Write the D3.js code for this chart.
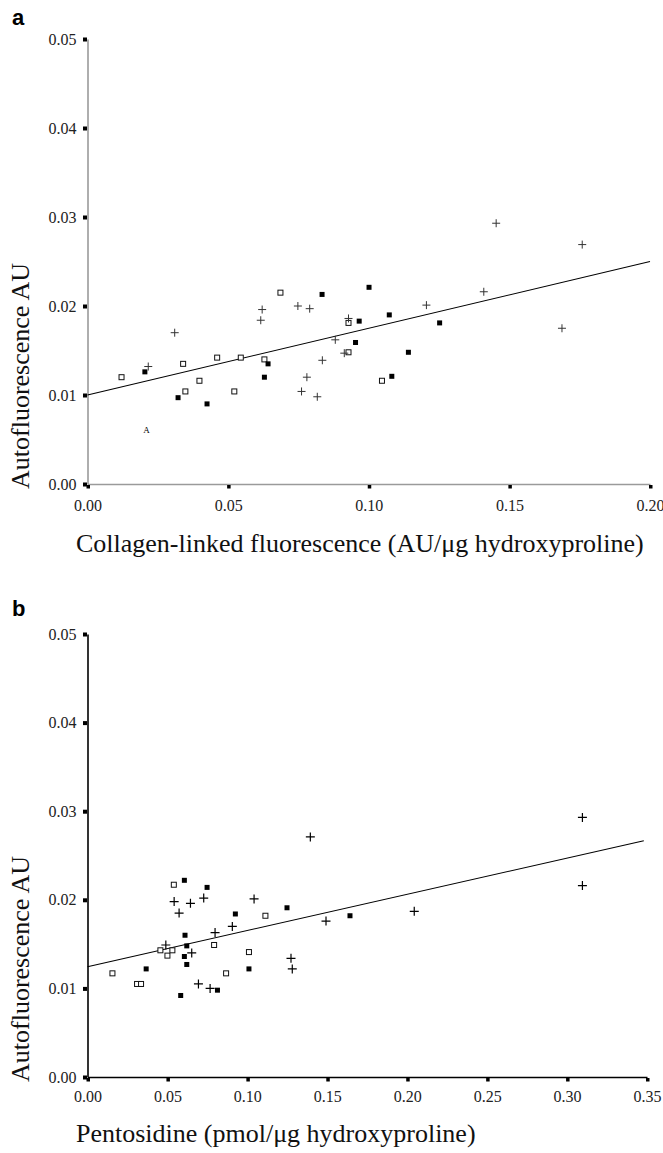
<!DOCTYPE html>
<html>
<head>
<meta charset="utf-8">
<script src="https://cdn.jsdelivr.net/npm/d3@7"></script>
<style>
  body { margin: 0; background: #fff; }
  .axis-title { font-family: "Liberation Serif", "Times New Roman", serif; fill: #111; }
  .panel-letter { font-family: "Liberation Sans", Arial, sans-serif; font-weight: bold; font-size: 22px; }
</style>
</head>
<body>
<div id="vis-container"></div>
<script>
// panel a: collagen-linked fluorescence vs autofluorescence, [x, y]
const aOpen = [
  [0.0121, 0.0120], [0.0340, 0.0135], [0.0348, 0.0104], [0.0398, 0.0116],
  [0.0461, 0.0142], [0.0522, 0.0104], [0.0545, 0.0142], [0.0629, 0.0140],
  [0.0686, 0.0215], [0.0928, 0.0181], [0.0928, 0.0148], [0.1047, 0.0116]
];
const aFilled = [
  [0.0204, 0.0126], [0.0322, 0.0097], [0.0425, 0.0090], [0.0629, 0.0120],
  [0.0642, 0.0135], [0.0834, 0.0213], [0.0966, 0.0183], [0.0953, 0.0159],
  [0.1001, 0.0221], [0.1073, 0.0190], [0.1252, 0.0181], [0.1141, 0.0148],
  [0.1082, 0.0121]
];
const aCross = [
  [0.0216, 0.0132], [0.0310, 0.0170], [0.0621, 0.0196], [0.0616, 0.0184],
  [0.0748, 0.0200], [0.0790, 0.0197], [0.0928, 0.0186], [0.0881, 0.0162],
  [0.0913, 0.0147], [0.0835, 0.0139], [0.0780, 0.0120], [0.0761, 0.0104],
  [0.0817, 0.0098], [0.1453, 0.0293], [0.1759, 0.0269], [0.1409, 0.0216],
  [0.1205, 0.0201], [0.1687, 0.0175]
];
const aLetterPoints = [[0.0210, 0.0061]];
const aFit = [[0, 0.0100], [0.20, 0.0250]];
const aXTicks = [0, 0.05, 0.10, 0.15, 0.20];

// panel b: pentosidine vs autofluorescence
const bOpen = [
  [0.0156, 0.0117], [0.0310, 0.0105], [0.0335, 0.0105], [0.0456, 0.0143],
  [0.0500, 0.0137], [0.0531, 0.0143], [0.0540, 0.0217], [0.0792, 0.0149],
  [0.0867, 0.0117], [0.1010, 0.0141], [0.1113, 0.0182]
];
const bFilled = [
  [0.0367, 0.0122], [0.0583, 0.0092], [0.0606, 0.0222], [0.0610, 0.0160],
  [0.0621, 0.0148], [0.0606, 0.0136], [0.0621, 0.0127], [0.0748, 0.0214],
  [0.0813, 0.0098], [0.0925, 0.0184], [0.1010, 0.0122], [0.1248, 0.0191],
  [0.1642, 0.0182]
];
const bCross = [
  [0.0490, 0.0149], [0.0542, 0.0198], [0.0573, 0.0185], [0.0644, 0.0196],
  [0.0652, 0.0140], [0.0727, 0.0202], [0.0694, 0.0105], [0.0767, 0.0100],
  [0.0798, 0.0163], [0.0906, 0.0170], [0.1042, 0.0201], [0.1273, 0.0134],
  [0.1281, 0.0122], [0.1492, 0.0176], [0.1394, 0.0271], [0.3096, 0.0293],
  [0.3096, 0.0216], [0.2044, 0.0187]
];
const bFit = [[0, 0.01245], [0.348, 0.02667]];
const bXTicks = [0, 0.05, 0.10, 0.15, 0.20, 0.25, 0.30, 0.35];

const yTicks = [0, 0.01, 0.02, 0.03, 0.04, 0.05];

let width = 663;
let height = 1153;
let svg = d3.select("#vis-container").append("svg").attr("width", width).attr("height", height);

function styleTicks(axis) {
  axis.attr("font-family", "Liberation Serif, serif").attr("font-size", 16);
  axis.selectAll(".tick text")
    .attr("font-family", "Liberation Serif, serif")
    .attr("font-size", 16)
    .attr("fill", "#222");
}

function drawPanel(p) {
  let x = d3.scaleLinear().domain(p.xDomain).range([87.5, p.xRight]);
  let y = d3.scaleLinear().domain([0, 0.05]).range([p.yBottom, p.yTop]);
  let g = svg.append("g");

  // axes
  let yAxis = g.append("g")
    .attr("transform", "translate(" + x(0) + ",0)")
    .call(d3.axisLeft(y).tickValues(yTicks).tickFormat(d3.format(".2f")).tickSize(0).tickPadding(11));
  yAxis.selectAll(".tick").append("rect")
    .attr("x", -4.5).attr("y", -2).attr("width", 4).attr("height", 4).attr("fill", "#000");

  let xAxis = g.append("g")
    .attr("transform", "translate(0," + y(0) + ")")
    .call(d3.axisBottom(x).tickValues(p.xTicks).tickFormat(d3.format(".2f")).tickSize(0).tickPadding(p.xPad));
  xAxis.selectAll(".tick").append("rect")
    .attr("x", -1.5).attr("y", 1).attr("width", 3.5).attr("height", 3.5).attr("fill", "#000");

  [yAxis, xAxis].forEach(a => {
    a.select(".domain").attr("stroke", p.axisColor).attr("stroke-width", p.axisWidth);
    styleTicks(a);
  });

  // regression line
  g.append("path")
    .attr("d", d3.line().x(d => x(d[0])).y(d => y(d[1]))(p.fit))
    .attr("fill", "none").attr("stroke", "#000").attr("stroke-width", 1.1);

  // open squares
  g.append("g").selectAll("rect").data(p.open).enter().append("rect")
    .attr("x", d => x(d[0]) - 2.5).attr("y", d => y(d[1]) - 2.5)
    .attr("width", 5).attr("height", 5)
    .attr("fill", "#fff").attr("stroke", "#111").attr("stroke-width", 1);

  // filled squares
  g.append("g").selectAll("rect").data(p.filled).enter().append("rect")
    .attr("x", d => x(d[0]) - 2.5).attr("y", d => y(d[1]) - 2.5)
    .attr("width", 5).attr("height", 5).attr("fill", "#000");

  // crosses
  let s = p.crossSize;
  g.append("g").selectAll("path").data(p.cross).enter().append("path")
    .attr("d", d => "M" + (x(d[0]) - s) + "," + y(d[1]) + "H" + (x(d[0]) + s) +
                    "M" + x(d[0]) + "," + (y(d[1]) - s) + "V" + (y(d[1]) + s))
    .attr("stroke", p.crossColor).attr("stroke-width", p.crossWidth).attr("fill", "none");

  if (p.letters) {
    g.append("g").selectAll("text").data(p.letters).enter().append("text")
      .attr("x", d => x(d[0])).attr("y", d => y(d[1]) + 3)
      .attr("text-anchor", "middle")
      .style("font-family", "'Liberation Serif', serif").style("font-size", "9px")
      .text("A");
  }

  // titles
  g.append("text").attr("class", "axis-title")
    .attr("x", 76).attr("y", p.xLabelY)
    .style("font-size", "26px")
    .text(p.xLabel);
  g.append("text").attr("class", "axis-title")
    .attr("transform", "translate(29," + (y(0) + 5) + ") rotate(-90)")
    .style("font-size", "26px")
    .text("Autofluorescence AU");
  g.append("text").attr("class", "panel-letter")
    .attr("x", 12).attr("y", p.letterY)
    .text(p.letter);
}

drawPanel({
  letter: "a", letterY: 25,
  xDomain: [0, 0.20], xRight: 650, yTop: 39, yBottom: 484,
  xTicks: aXTicks, xPad: 16,
  axisColor: "#9a9a9a", axisWidth: 1.6,
  open: aOpen, filled: aFilled, cross: aCross, letters: aLetterPoints,
  crossSize: 4, crossColor: "#333", crossWidth: 1,
  fit: aFit,
  xLabel: "Collagen-linked fluorescence (AU/\u03bcg hydroxyproline)", xLabelY: 552
});

drawPanel({
  letter: "b", letterY: 616,
  xDomain: [0, 0.35], xRight: 647, yTop: 634, yBottom: 1077,
  xTicks: bXTicks, xPad: 14,
  axisColor: "#000", axisWidth: 1.6,
  open: bOpen, filled: bFilled, cross: bCross,
  crossSize: 4.5, crossColor: "#000", crossWidth: 1.2,
  fit: bFit,
  xLabel: "Pentosidine (pmol/\u03bcg hydroxyproline)", xLabelY: 1142
});
</script>
</body>
</html>
